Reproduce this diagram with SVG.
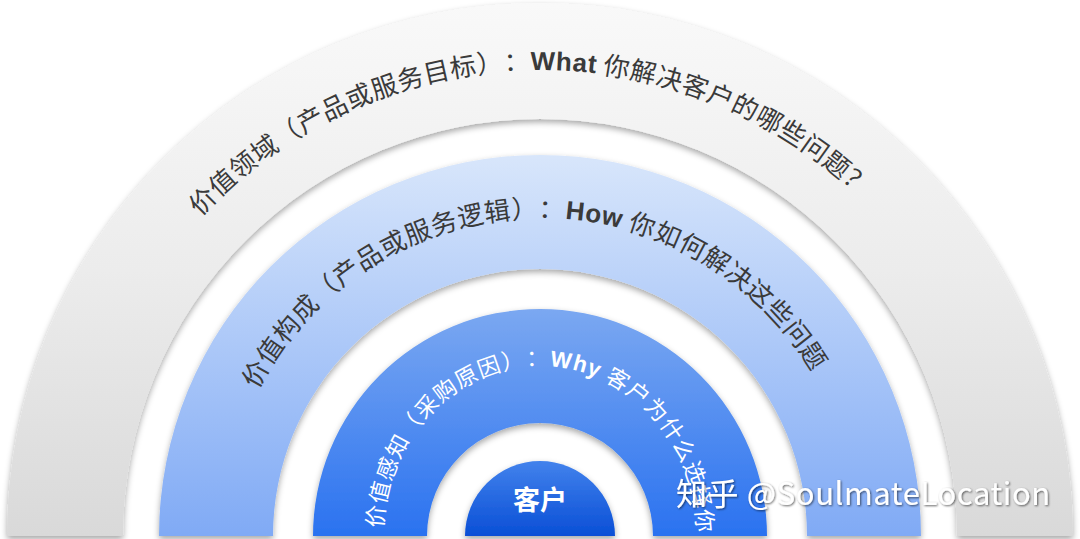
<svg xmlns="http://www.w3.org/2000/svg" width="1080" height="539" viewBox="0 0 1080 539">
<defs>
<style>
text{text-spacing-trim:space-all;}
.dk{font-family:"Noto Sans CJK SC","Liberation Sans",sans-serif;fill:#3a3a3a;}
.wt{font-family:"Noto Sans CJK SC","Liberation Sans",sans-serif;fill:#ffffff;}
.b{font-family:"Liberation Sans","Noto Sans CJK SC",sans-serif;font-weight:bold;}
</style>
<linearGradient id="gGray" x1="0" y1="0" x2="0" y2="1"><stop offset="0" stop-color="#f9f9f9"/><stop offset="0.5" stop-color="#ececec"/><stop offset="1" stop-color="#d9d9d9"/></linearGradient>
<linearGradient id="gLight" x1="0" y1="0" x2="0" y2="1"><stop offset="0" stop-color="#d8e6fb"/><stop offset="1" stop-color="#80aaf5"/></linearGradient>
<linearGradient id="gMid" x1="0" y1="0" x2="0" y2="1"><stop offset="0" stop-color="#7ba8f1"/><stop offset="1" stop-color="#2a72f0"/></linearGradient>
<linearGradient id="gCore" x1="0" y1="0" x2="0" y2="1"><stop offset="0" stop-color="#4282ec"/><stop offset="1" stop-color="#0a4fd6"/></linearGradient>
<filter id="sh" x="-10%" y="-10%" width="120%" height="125%"><feDropShadow dx="0" dy="3" stdDeviation="3" flood-color="#000" flood-opacity="0.35"/></filter>
<filter id="tsh" x="-5%" y="-20%" width="110%" height="150%"><feDropShadow dx="1" dy="1" stdDeviation="1" flood-color="#000" flood-opacity="0.6"/></filter>
<path id="arcOuter" d="M 74,536 A 466 466 0 0 1 1006,536"/>
<path id="arcMid" d="M 222,536 A 318 318 0 0 1 858,536"/>
<path id="arcIn" d="M 383,536 A 157 170 0 0 1 697,536"/>
</defs>
<rect width="1080" height="539" fill="#ffffff"/>
<g id="ring-value-domain">
<path d="M 7,536 A 533 533 0 0 1 1073,536 L 957,536 A 417 417 0 0 0 123,536 Z" fill="url(#gGray)" filter="url(#sh)"/>
<text class="dk" font-size="26" letter-spacing="0.5"><textPath href="#arcOuter" startOffset="24%">价值领域（产品或服务目标）：<tspan class="b">What</tspan> 你解决客户的哪些问题？</textPath></text>
</g>
<g id="ring-value-composition">
<path d="M 159,536 A 381 381 0 0 1 921,536 L 807,536 A 267 267 0 0 0 273,536 Z" fill="url(#gLight)" filter="url(#sh)"/>
<text class="dk" font-size="26" letter-spacing="0.6"><textPath href="#arcMid" startOffset="15.2%">价值构成（产品或服务逻辑）：<tspan class="b">How</tspan> 你如何解决这些问题</textPath></text>
</g>
<g id="ring-value-perception">
<path d="M 313,536 A 227 227 0 0 1 767,536 L 653,536 A 113 113 0 0 0 427,536 Z" fill="url(#gMid)" filter="url(#sh)"/>
<text class="wt" font-size="22.5" letter-spacing="1"><textPath href="#arcIn" startOffset="1.5%">价值感知（采购原因）：<tspan class="b">Why</tspan> 客户为什么选择你</textPath></text>
</g>
<g id="node-customer">
<path d="M 465,536 A 75 75 0 0 1 615,536 Z" fill="url(#gCore)" filter="url(#sh)"/>
<text class="wt" font-size="27" font-weight="bold" x="540" y="510" text-anchor="middle">客户</text>
</g>
<g id="watermark">
<text class="wt" font-size="31" letter-spacing="0.6" x="676" y="505" filter="url(#tsh)">知乎 @SoulmateLocation</text>
</g>
</svg>
